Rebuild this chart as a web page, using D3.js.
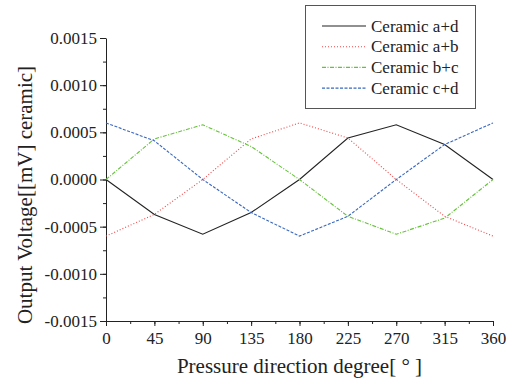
<!DOCTYPE html>
<html lang="en">
<head>
<meta charset="UTF-8">
<title>Output voltage</title>
<script src="https://d3js.org/d3.v7.min.js"></script>
<style>
  body { margin: 0; background: #fff; }
  .axis path, .axis line { stroke: #222; }
</style>
</head>
<body>
<svg id="svg" width="513" height="389"></svg>
<script>
  const degrees = [0, 45, 90, 135, 180, 225, 270, 315, 360];
  const ceramicAD = [0, -0.00037, -0.00058, -0.00035, 0, 0.00044, 0.00058, 0.00037, 0];
  const ceramicAB = [-0.0006, -0.00037, 0, 0.00043, 0.0006, 0.00044, 0, -0.00039, -0.0006];
  const ceramicBC = [0, 0.00043, 0.00058, 0.00035, 0, -0.00039, -0.00058, -0.00041, 0];
  const ceramicCD = [0.0006, 0.00041, 0, -0.00035, -0.0006, -0.00039, 0, 0.00037, 0.0006];
  const yTicks = [-0.0015, -0.0010, -0.0005, 0, 0.0005, 0.0010, 0.0015];

  const series = [
    { name: "Ceramic a+d", values: ceramicAD, color: "#222", dash: null },
    { name: "Ceramic a+b", values: ceramicAB, color: "#f04848", dash: "1,2" },
    { name: "Ceramic b+c", values: ceramicBC, color: "#66c23a", dash: "4,1.5,1,1.5" },
    { name: "Ceramic c+d", values: ceramicCD, color: "#3a68c0", dash: "3,1.5" }
  ];

  const font = "Liberation Serif";
  const svg = d3.select("#svg");
  const mLeft = 106, mRight = 493, mTop = 38, mBottom = 321;

  const x = d3.scaleLinear().domain([0, 360]).range([mLeft, mRight]);
  const y = d3.scaleLinear().domain([-0.0015, 0.0015]).range([mBottom, mTop]);

  // minor ticks first, then major axes on top
  svg.append("g").attr("class", "axis").attr("transform", `translate(0,${mBottom})`)
    .call(d3.axisBottom(x).tickValues(d3.range(0, 361, 22.5)).tickSize(3).tickFormat(""))
    .call(g => g.select(".domain").remove());
  svg.append("g").attr("class", "axis").attr("transform", `translate(${mLeft},0)`)
    .call(d3.axisLeft(y).tickValues(d3.range(-0.0015, 0.00151, 0.00025)).tickSize(3).tickFormat(""))
    .call(g => g.select(".domain").remove());

  svg.append("g").attr("class", "axis").attr("transform", `translate(0,${mBottom})`)
    .call(d3.axisBottom(x).tickValues(degrees).tickSize(5).tickPadding(6).tickSizeOuter(0))
    .attr("font-family", font).attr("font-size", 17);
  svg.append("g").attr("class", "axis").attr("transform", `translate(${mLeft},0)`)
    .call(d3.axisLeft(y).tickValues(yTicks).tickSize(6).tickPadding(3).tickSizeOuter(0)
      .tickFormat(d => d3.format(".4f")(d).replace("−", "-")))
    .attr("font-family", font).attr("font-size", 17);
  svg.selectAll(".axis text").attr("fill", "#222");

  const line = d3.line().x((d, i) => x(degrees[i])).y(d => y(d));

  series.forEach(s => {
    svg.append("path")
      .datum(s.values)
      .attr("d", line)
      .attr("fill", "none")
      .attr("stroke", s.color)
      .attr("stroke-width", 1.1)
      .attr("stroke-dasharray", s.dash);
  });

  // legend
  const legend = svg.append("g").attr("font-family", font);
  legend.append("rect")
    .attr("x", 305.5).attr("y", 5.5).attr("width", 170).attr("height", 103)
    .attr("fill", "#fff").attr("stroke", "#555").attr("stroke-width", 1);
  series.forEach((s, i) => {
    const ly = 26 + i * 20.7;
    legend.append("line")
      .attr("x1", 322).attr("x2", 366).attr("y1", ly).attr("y2", ly)
      .attr("stroke", s.color).attr("stroke-width", 1.1)
      .attr("stroke-dasharray", s.dash);
    legend.append("text")
      .attr("x", 371).attr("y", ly + 5.5)
      .attr("font-size", 17).attr("fill", "#222")
      .text(s.name);
  });

  svg.append("text")
    .attr("x", (mLeft + mRight) / 2).attr("y", 373)
    .attr("text-anchor", "middle").attr("font-size", 21)
    .attr("font-family", font).attr("fill", "#222")
    .text("Pressure direction degree[ ° ]");

  svg.append("text")
    .attr("transform", "translate(32,195) rotate(-90)")
    .attr("text-anchor", "middle").attr("font-size", 21)
    .attr("font-family", font).attr("fill", "#222")
    .text("Output Voltage[[mV] ceramic]");
</script>
</body>
</html>
